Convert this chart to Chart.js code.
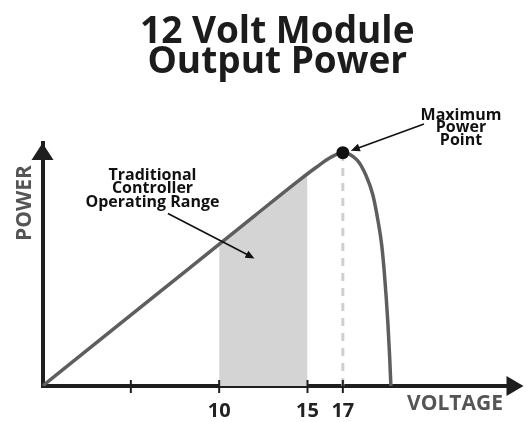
<!DOCTYPE html>
<html>
<head>
<meta charset="utf-8">
<script src="https://cdn.jsdelivr.net/npm/chart.js@4.4.1/dist/chart.umd.min.js"></script>
<style>
  html, body { margin: 0; padding: 0; background: #ffffff; }
  #wrap { width: 526px; height: 422px; }
</style>
</head>
<body>
<div id="wrap"><canvas id="c" width="526" height="422"></canvas></div>
<script>
// ---- data ----
const titleLines = ['12 Volt Module', 'Output Power'];
// module output power curve (volts, relative power)
const curveVolts = [0, 6, 12, 14.5, 15.5, 16.3, 17, 17.8, 18.3, 18.7, 19.0, 19.2, 19.35, 19.55, 19.65, 19.72];
const curvePower = [0, 35, 70, 84.5, 90, 94, 96, 93, 86.8, 78.6, 67.6, 58, 46.5, 25.9, 12, 0];
// traditional controller operating range (shaded)
const rangeVolts = [10, 12, 14.5, 15];
const rangePower = [58.3, 70, 84.5, 87.3];
// maximum power point
const mppVolts = [17];
const mppPower = [96];
// x axis ticks
const tickValues = [5, 10, 15, 17];
const tickLabels = ['', '10', '15', '17'];
const xAxisLabel = 'VOLTAGE';
const yAxisLabel = 'POWER';
const mppLabel = ['Maximum', 'Power', 'Point'];
const rangeLabel = ['Traditional', 'Controller', 'Operating Range'];

const FONT = "'Open Sans', 'DejaVu Sans', sans-serif";
const AXIS = '#1e1e1e';

function pts(xs, ys) { return xs.map((v, i) => ({ x: v, y: ys[i] })); }

function arrow(ctx, x1, y1, x2, y2, head, half) {
  const ang = Math.atan2(y2 - y1, x2 - x1);
  ctx.beginPath();
  ctx.moveTo(x1, y1);
  ctx.lineTo(x2 - Math.cos(ang) * head * 0.8, y2 - Math.sin(ang) * head * 0.8);
  ctx.stroke();
  ctx.beginPath();
  ctx.moveTo(x2, y2);
  ctx.lineTo(x2 - Math.cos(ang) * head - Math.sin(ang) * half, y2 - Math.sin(ang) * head + Math.cos(ang) * half);
  ctx.lineTo(x2 - Math.cos(ang) * head + Math.sin(ang) * half, y2 - Math.sin(ang) * head - Math.cos(ang) * half);
  ctx.closePath();
  ctx.fill();
}

const overlay = {
  id: 'overlay',
  afterDraw(chart) {
    const { ctx, chartArea: a, scales: { x, y } } = chart;
    ctx.save();
    // tick marks crossing the x axis
    ctx.strokeStyle = AXIS;
    ctx.lineWidth = 2;
    tickValues.forEach(v => {
      const px = x.getPixelForValue(v);
      ctx.beginPath();
      ctx.moveTo(px, a.bottom - 6);
      ctx.lineTo(px, a.bottom + 7);
      ctx.stroke();
    });
    // arrow heads on axes
    ctx.fillStyle = AXIS;
    ctx.beginPath();
    ctx.moveTo(a.left, a.top);
    ctx.lineTo(a.left - 11, a.top + 17);
    ctx.lineTo(a.left + 11, a.top + 17);
    ctx.closePath();
    ctx.fill();
    ctx.beginPath();
    ctx.moveTo(a.right + 4, a.bottom);
    ctx.lineTo(a.right - 13, a.bottom - 10);
    ctx.lineTo(a.right - 13, a.bottom + 10);
    ctx.closePath();
    ctx.fill();

    // axis labels
    ctx.fillStyle = '#555555';
    ctx.font = "bold 21px " + FONT;
    ctx.textAlign = 'center';
    ctx.textBaseline = 'alphabetic';
    ctx.fillText(xAxisLabel, 455, 410);
    ctx.save();
    ctx.translate(31, 203);
    ctx.rotate(-Math.PI / 2);
    ctx.fillText(yAxisLabel, 0, 0);
    ctx.restore();

    // annotations
    ctx.fillStyle = '#111111';
    ctx.strokeStyle = '#111111';
    ctx.font = "bold 16px " + FONT;
    ctx.textAlign = 'center';
    mppLabel.forEach((t, i) => ctx.fillText(t, 461, 119.5 + i * 12.5));
    rangeLabel.forEach((t, i) => ctx.fillText(t, 152.5, 179.5 + i * 13.7));

    ctx.lineWidth = 1.6;
    const mx = x.getPixelForValue(mppVolts[0]);
    const my = y.getPixelForValue(mppPower[0]);
    arrow(ctx, 424, 124, mx + 8, my - 2, 9, 4);
    arrow(ctx, x.getPixelForValue(7.1), y.getPixelForValue(71), x.getPixelForValue(12), y.getPixelForValue(52.5), 9, 4);
    ctx.restore();
  }
};

new Chart(document.getElementById('c'), {
  type: 'line',
  data: {
    datasets: [
      {
        label: 'Traditional Controller Operating Range',
        data: pts(rangeVolts, rangePower),
        borderWidth: 0,
        borderColor: 'rgba(0,0,0,0)',
        backgroundColor: '#d4d4d4',
        fill: 'origin',
        pointRadius: 0,
        cubicInterpolationMode: 'monotone',
        order: 4
      },
      {
        label: 'MPP voltage',
        data: [{ x: mppVolts[0], y: 0 }, { x: mppVolts[0], y: mppPower[0] }],
        borderColor: '#cfcfcf',
        borderWidth: 3,
        borderDash: [8, 7],
        pointRadius: 0,
        fill: false,
        order: 3
      },
      {
        label: 'Output Power',
        data: pts(curveVolts, curvePower),
        borderColor: '#5e5e5e',
        borderWidth: 3.5,
        pointRadius: 0,
        fill: false,
        cubicInterpolationMode: 'monotone',
        order: 2
      },
      {
        label: 'Maximum Power Point',
        data: pts(mppVolts, mppPower),
        showLine: false,
        pointRadius: 6.5,
        pointBackgroundColor: '#111111',
        pointBorderColor: '#111111',
        borderWidth: 0,
        order: 1
      }
    ]
  },
  options: {
    responsive: false,
    animation: false,
    devicePixelRatio: 1,
    layout: { padding: { left: 29.5, right: 1, top: 0, bottom: 1 } },
    plugins: {
      legend: { display: false },
      tooltip: { enabled: false },
      title: {
        display: true,
        text: titleLines,
        color: '#1c1c1c',
        fullSize: true,
        font: { family: FONT, weight: 'bold', size: 37, lineHeight: 0.81 },
        padding: { top: 17, bottom: 66 }
      }
    },
    scales: {
      x: {
        type: 'linear',
        min: 0,
        max: 27,
        z: 1,
        grid: { display: false, drawTicks: false },
        border: { display: true, color: AXIS, width: 4 },
        afterBuildTicks: s => { s.ticks = tickValues.map(v => ({ value: v })); },
        afterFit: s => { s.height = 35; },
        ticks: {
          autoSkip: false,
          maxRotation: 0,
          padding: 13,
          color: '#222222',
          font: { family: FONT, weight: 'bold', size: 20, lineHeight: 1.2 },
          callback: (v) => { const i = tickValues.indexOf(v); return i >= 0 ? tickLabels[i] : ''; }
        }
      },
      y: {
        type: 'linear',
        min: 0,
        max: 100,
        z: 1,
        grid: { display: false, drawTicks: false },
        border: { display: true, color: AXIS, width: 4 },
        ticks: { display: false },
        afterFit: s => { s.width = 13; }
      }
    }
  },
  plugins: [overlay]
});
</script>
</body>
</html>
